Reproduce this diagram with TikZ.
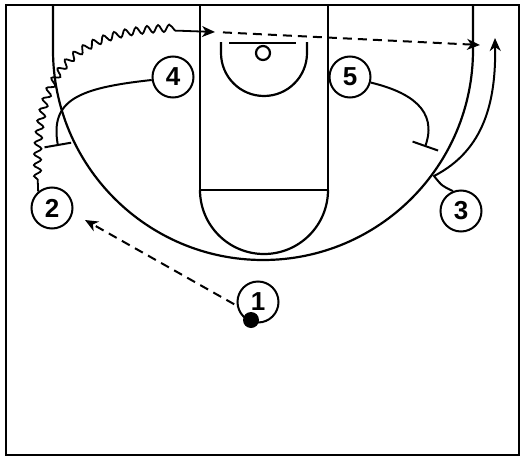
\documentclass[tikz,border=0pt]{standalone}
\usepackage{fontspec}
\setmainfont{Liberation Sans}
\usetikzlibrary{arrows.meta,decorations.pathmorphing}

\tikzset{
  court/.style={line width=2.2pt},
  player/.style={circle, draw, line width=2pt, minimum size=41pt, inner sep=0pt,
    font=\fontsize{26}{26}\selectfont\bfseries},
  ball/.style={circle, fill=black, minimum size=16pt, inner sep=0pt},
  tip/.style={-{Stealth[length=13pt,width=11pt,inset=4pt]}},
  pass/.style={line width=2pt, dash pattern=on 9pt off 6pt, tip},
  cut/.style={line width=2pt, tip},
  screen/.style={line width=2pt, -{Bar[width=27pt]}},
  dribble/.style={line width=1.8pt, tip, decorate,
    decoration={snake, amplitude=3.6pt, segment length=11pt, pre length=12pt, post length=36pt}}
}

\begin{document}
\begin{tikzpicture}[x=1pt, y=-1pt]
\useasboundingbox (0,0) rectangle (525,458);

% court
\draw[court] (6,5) rectangle (519,455);
\draw[court] (53,5) -- (53,50) arc[start angle=180, end angle=0, radius=210] -- (473,5);
\draw[court] (200,5) -- (200,190) -- (328,190) -- (328,5);
\draw[court] (200,190) arc[start angle=180, end angle=0, radius=64];
\draw[court] (221,42) -- (221,53) arc[start angle=180, end angle=0, radius=43] -- (307,42);
\draw[court] (229,43) -- (296,43);
\draw[court] (263,53) circle[radius=7];

% players
\node[player] (n1) at (258,302) {1};
\node[player] (n2) at (52,208) {2};
\node[player] (n3) at (461,211) {3};
\node[player] (n4) at (173,77) {4};
\node[player] (n5) at (350,77) {5};
\node[ball] (ball) at (251,320) {};

\coordinate (pass12) at (85,220);
\coordinate (top2) at (215,32);
\coordinate (corner3) at (480,45);
\coordinate (bend3) at (434,176);
\coordinate (cut3) at (495,38);
\coordinate (scr4) at (58,146);
\coordinate (scr5) at (425,147);

\draw[pass, shorten <=3pt] (n1.190) -- (pass12);
\draw[dribble] (n2.130) .. controls (32,70) and (70,22) .. (top2);
\draw[pass, shorten <=8pt] (top2) -- (corner3);
\draw[cut] (n3.112) .. controls (442,186) .. (bend3) .. controls (485,150) and (496,100) .. (cut3);
%
\draw[screen] (n4.188) .. controls (78,88) and (50,100) .. (scr4);
\draw[screen] (n5.-15) .. controls (410,92) and (438,110) .. (scr5);

\end{tikzpicture}
\end{document}
